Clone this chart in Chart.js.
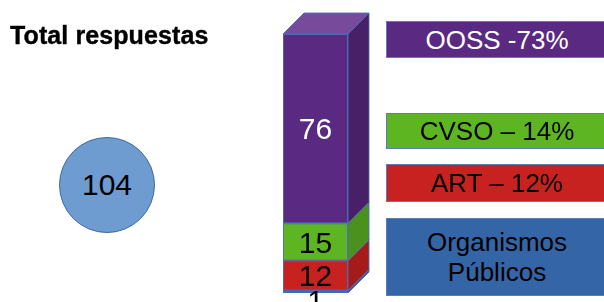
<!DOCTYPE html>
<html>
<head>
<meta charset="utf-8">
<script src="https://cdn.jsdelivr.net/npm/chart.js@4.4.0/dist/chart.umd.min.js"></script>
<style>
  html, body { margin: 0; padding: 0; background: #ffffff; }
  #wrap { position: relative; width: 604px; height: 302px; overflow: hidden;
          font-family: "Liberation Sans", Arial, sans-serif; }
  #c { position: absolute; left: 0; top: 0; }
  .title { position: absolute; left: 10px; top: 23px; font-size: 25px; font-weight: bold;
           line-height: 25px; white-space: nowrap; color: #000; letter-spacing: 0.1px;
           -webkit-text-stroke: 0.4px #000; }
  .circle { position: absolute; left: 59px; top: 137px; width: 96px; height: 96px;
            border-radius: 50%; background: #6F9CD0; border: 1px solid #3F6AA5;
            box-sizing: border-box; display: flex; align-items: center; justify-content: center;
            font-size: 30px; color: #000; }
  .box { position: absolute; left: 386px; width: 222px; box-sizing: border-box;
         border: 1px solid #5A7DB5; display: flex; align-items: center; justify-content: center;
         text-align: center; font-size: 26px; line-height: 30px; white-space: pre-line; }
</style>
</head>
<body>
<div id="wrap">
  <canvas id="c" width="604" height="302"></canvas>
  <div class="title" id="title"></div>
  <div class="circle" id="total"></div>
  <div id="legend"></div>
</div>
<script>
// ---- data ----
const titleText = 'Total respuestas';
const categories = ['Organismos Públicos', 'ART', 'CVSO', 'OOSS'];
const values = [1, 12, 15, 76];
const legendLabels = ['Organismos\nPúblicos', 'ART – 12%', 'CVSO – 14%', 'OOSS -73%'];

// ---- styles ----
const frontColors = ['#3465A6', '#C7221F', '#5DB521', '#5A2A82'];
const sideColors  = ['#2D5794', '#A51B1A', '#4A921C', '#472068'];
const topColor = '#774A9B';
const labelColors = ['#000000', '#000000', '#000000', '#ffffff'];
const legendTextColors = ['#000000', '#000000', '#000000', '#ffffff'];
const legendBoxes = [ {top: 218, h: 78}, {top: 164, h: 38}, {top: 113, h: 36}, {top: 21, h: 37} ];
const DX = 21, DY = 21;

const total = values.reduce((a, b) => a + b, 0);
document.getElementById('title').textContent = titleText;
document.getElementById('total').textContent = String(total);

const legendEl = document.getElementById('legend');
categories.forEach((c, i) => {
  const d = document.createElement('div');
  d.className = 'box';
  d.style.top = legendBoxes[i].top + 'px';
  d.style.height = legendBoxes[i].h + 'px';
  d.style.background = frontColors[i];
  d.style.color = legendTextColors[i];
  d.textContent = legendLabels[i];
  legendEl.appendChild(d);
});

const edge = 'rgba(70,110,190,0.85)';

const threeD = {
  id: 'threeD',
  afterDatasetsDraw(chart) {
    const ctx = chart.ctx;
    const n = chart.data.datasets.length;
    ctx.save();
    ctx.lineWidth = 1;
    ctx.strokeStyle = edge;
    for (let i = 0; i < n; i++) {
      const el = chart.getDatasetMeta(i).data[0];
      const p = el.getProps(['x', 'y', 'base', 'width'], true);
      const l = p.x - p.width / 2, r = p.x + p.width / 2;
      // side face
      ctx.beginPath();
      ctx.moveTo(r, p.y);
      ctx.lineTo(r + DX, p.y - DY);
      ctx.lineTo(r + DX, p.base - DY);
      ctx.lineTo(r, p.base);
      ctx.closePath();
      ctx.fillStyle = sideColors[i];
      ctx.fill();
      ctx.stroke();
      // front outline
      ctx.strokeRect(l + 0.5, p.y + 0.5, p.width - 1, p.base - p.y - 1);
      if (i === n - 1) {
        ctx.beginPath();
        ctx.moveTo(l, p.y);
        ctx.lineTo(l + DX, p.y - DY);
        ctx.lineTo(r + DX, p.y - DY);
        ctx.lineTo(r, p.y);
        ctx.closePath();
        ctx.fillStyle = topColor;
        ctx.fill();
        ctx.stroke();
      }
    }
    // value labels
    ctx.font = '30px "Liberation Sans", Arial, sans-serif';
    ctx.textAlign = 'center';
    ctx.textBaseline = 'alphabetic';
    for (let i = 0; i < n; i++) {
      const el = chart.getDatasetMeta(i).data[0];
      const p = el.getProps(['x', 'y', 'base', 'width'], true);
      const v = chart.data.datasets[i].data[0];
      ctx.fillStyle = labelColors[i];
      let yb;
      if (p.base - p.y < 15) {
        yb = p.base + 17.5;          // small segment: label below the bar
      } else {
        yb = (p.y + p.base) / 2 + 10.7;
      }
      ctx.fillText(String(v), p.x, yb);
    }
    ctx.restore();
  }
};

new Chart(document.getElementById('c'), {
  type: 'bar',
  data: {
    labels: ['Total'],
    datasets: categories.map((c, i) => ({
      label: c,
      data: [values[i]],
      backgroundColor: frontColors[i],
      borderWidth: 0,
      barPercentage: 1,
      categoryPercentage: 1
    }))
  },
  options: {
    responsive: false,
    animation: false,
    layout: { padding: { left: 283, right: 256, top: 34, bottom: 9 } },
    scales: {
      x: { display: false, stacked: true },
      y: { display: false, stacked: true, min: 0, max: total }
    },
    plugins: { legend: { display: false }, tooltip: { enabled: false } }
  },
  plugins: [threeD]
});
</script>
</body>
</html>
